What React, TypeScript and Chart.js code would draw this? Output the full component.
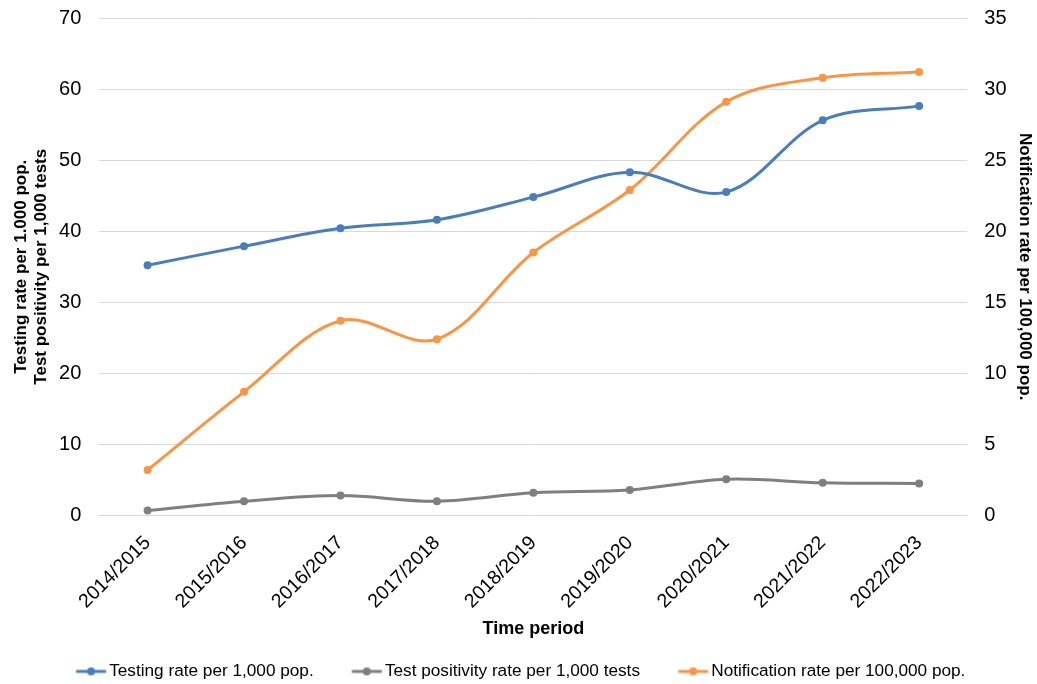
import React, { useEffect, useRef } from "react";
import { Chart, registerables } from "chart.js";

Chart.register(...registerables);

const categories = ["2014/2015", "2015/2016", "2016/2017", "2017/2018", "2018/2019", "2019/2020", "2020/2021", "2021/2022", "2022/2023"];
const testingRate = [35.2, 37.9, 40.4, 41.6, 44.8, 48.3, 45.5, 55.6, 57.6];
const positivityRate = [0.7, 2.0, 2.8, 2.0, 3.2, 3.6, 5.1, 4.6, 4.5];
const notificationRate = [3.2, 8.7, 13.7, 12.4, 18.5, 22.9, 29.1, 30.8, 31.2];
const leftTicks = [0, 10, 20, 30, 40, 50, 60, 70];
const rightTicks = [0, 5, 10, 15, 20, 25, 30, 35];
const seriesLabels = ["Testing rate per 1,000 pop.", "Test positivity rate per 1,000 tests", "Notification rate per 100,000 pop."];

const BLUE = "#4a7ebb";
const GREY = "#7f7f7f";
const ORANGE = "#f79646";
const FONT = "'Liberation Sans', Arial, sans-serif";
const LEGEND_GAP = "        \u2009";

function legendMarker(color: string): HTMLCanvasElement {
  // 60 px wide image, centred on a 20 px legend box: marker sits just left of the text
  const c = document.createElement("canvas");
  c.width = 60;
  c.height = 12;
  const ctx = c.getContext("2d")!;
  ctx.strokeStyle = color;
  ctx.lineWidth = 3;
  ctx.beginPath();
  ctx.moveTo(15.5, 6);
  ctx.lineTo(45.5, 6);
  ctx.stroke();
  ctx.fillStyle = color;
  ctx.beginPath();
  ctx.arc(30.5, 6, 4, 0, Math.PI * 2);
  ctx.fill();
  return c;
}

const fixTop = (scale: any) => {
  scale.paddingTop = 18;
};

export default function App() {
  const ref = useRef<HTMLCanvasElement>(null);
  useEffect(() => {
    if (!ref.current) return;
    const markers = [legendMarker(BLUE), legendMarker(GREY), legendMarker(ORANGE)];
    const chart = new Chart(ref.current, {
      type: "line",
      data: {
        labels: categories,
        datasets: [
          { label: seriesLabels[0], data: testingRate, borderColor: BLUE, backgroundColor: BLUE, yAxisID: "y" },
          { label: seriesLabels[1], data: positivityRate, borderColor: GREY, backgroundColor: GREY, yAxisID: "y" },
          { label: seriesLabels[2], data: notificationRate, borderColor: ORANGE, backgroundColor: ORANGE, yAxisID: "y1" },
        ],
      },
      options: {
        animation: false,
        responsive: true,
        maintainAspectRatio: false,
        elements: {
          line: { borderWidth: 3, tension: 0.35 },
          point: { radius: 4, borderWidth: 0, hoverRadius: 4 },
        },
        layout: { padding: { left: 11, right: 2, top: 0, bottom: -6 } },
        scales: {
          x: {
            offset: true,
            grid: { display: false, drawTicks: false },
            border: { display: false },
            ticks: { color: "#000", font: { family: FONT, size: 19.5 }, maxRotation: 45, minRotation: 45, padding: 16 },
            title: { display: true, text: "Time period", color: "#000", font: { family: FONT, size: 18, weight: "bold" }, padding: { top: -11, bottom: 22 } },
          },
          y: {
            position: "left",
            min: 0,
            max: 70,
            afterBuildTicks: (axis: any) => { axis.ticks = leftTicks.map((v) => ({ value: v })); },
            afterFit: fixTop,
            grid: { color: "#d9d9d9", lineWidth: 1, drawTicks: false },
            border: { display: false },
            ticks: { color: "#000", font: { family: FONT, size: 20 }, padding: 18 },
            title: {
              display: true,
              text: ["Testing rate per 1.000 pop.", "Test positivity per 1,000 tests"],
              color: "#000",
              font: { family: FONT, size: 17, weight: "bold", lineHeight: 1.18 },
              padding: { top: 0, bottom: -10 },
            },
          },
          y1: {
            position: "right",
            min: 0,
            max: 35,
            afterBuildTicks: (axis: any) => { axis.ticks = rightTicks.map((v) => ({ value: v })); },
            afterFit: fixTop,
            grid: { display: false, drawTicks: false },
            border: { display: false },
            ticks: { color: "#000", font: { family: FONT, size: 20 }, padding: 17 },
            title: {
              display: true,
              text: "Notification rate per 100,000 pop.",
              color: "#000",
              font: { family: FONT, size: 17, weight: "bold" },
              padding: { top: 0, bottom: -9 },
            },
          },
        },
        plugins: {
          legend: {
            position: "bottom",
            labels: {
              usePointStyle: true,
              pointStyleWidth: 20,
              color: "#000",
              font: { family: FONT, size: 17.2 },
              padding: 1,
              generateLabels: (ch: any) =>
                ch.data.datasets.map((ds: any, i: number) => ({
                  text: i < ch.data.datasets.length - 1 ? ds.label + LEGEND_GAP : ds.label,
                  fillStyle: ds.borderColor,
                  strokeStyle: ds.borderColor,
                  pointStyle: markers[i],
                  hidden: false,
                  datasetIndex: i,
                  lineWidth: 0,
                  fontColor: "#000",
                })),
            },
          },
          tooltip: { enabled: false },
        },
      },
    });
    return () => chart.destroy();
  }, []);
  return (
    <div style={{ position: "fixed", left: 0, top: 0, width: 1037, height: 684, background: "#fff" }}>
      <canvas ref={ref} />
    </div>
  );
}
